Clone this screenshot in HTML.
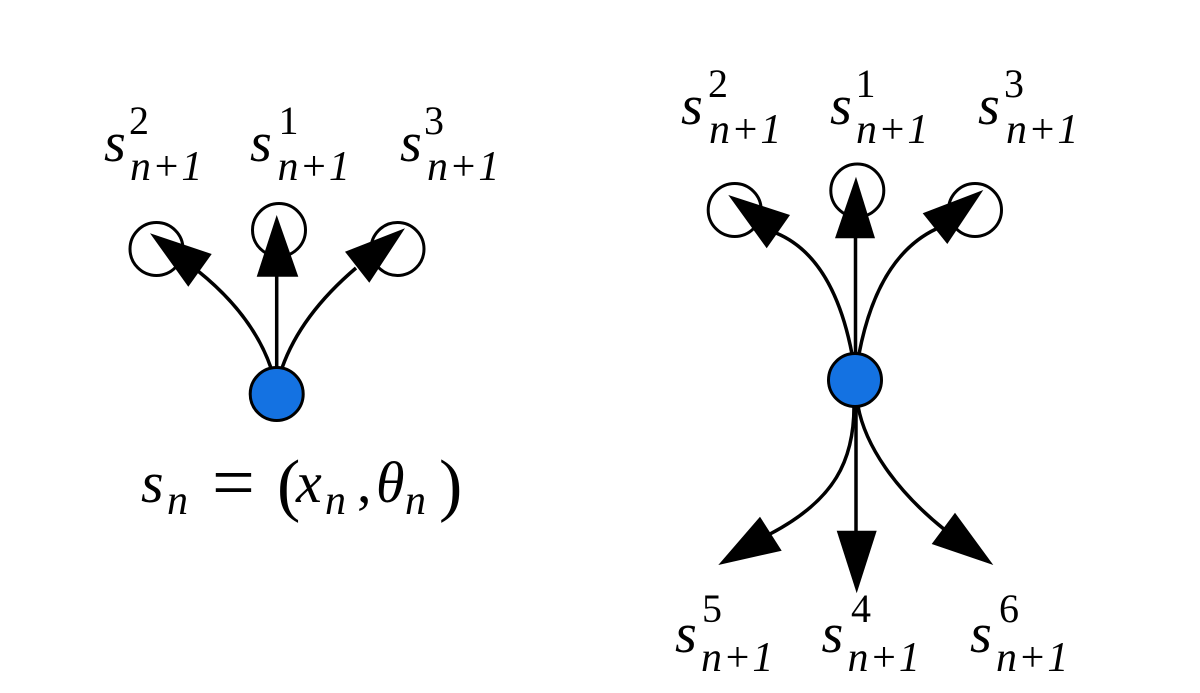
<!DOCTYPE html>
<html>
<head>
<meta charset="utf-8">
<style>
  html,body{margin:0;padding:0;background:#fff;}
  #wrap{position:relative;width:1200px;height:693px;overflow:hidden;background:#fff;}
  svg{position:absolute;left:0;top:0;display:block;}
  .t{position:absolute;white-space:nowrap;line-height:0;color:#000;
     font-family:"Liberation Serif","Times New Roman",Times,serif;font-style:normal;}
  .i{font-style:italic;}
  .m{font-size:56px;}
  .p{font-size:40px;}
  .b{font-size:42px;letter-spacing:1px;}
</style>
</head>
<body>
<div id="wrap">
<svg width="1200" height="693" viewBox="0 0 1200 693" xmlns="http://www.w3.org/2000/svg">
  <rect width="1200" height="693" fill="#fff"/>

  <!-- ===== LEFT DIAGRAM ===== -->
  <g fill="#fff" stroke="#000" stroke-width="3">
    <circle cx="156.5" cy="249" r="26.5"/>
    <circle cx="279" cy="230" r="26.5"/>
    <circle cx="397.5" cy="249" r="26.5"/>
  </g>
  <g fill="none" stroke="#000" stroke-width="3.5">
    <path d="M276.7 368 L276.7 270"/>
    <path d="M271 368 Q252.7 315 198 271"/>
    <path d="M282 368 Q300.7 315 356 268"/>
  </g>
  <g fill="#000" stroke="none">
    <polygon points="276.7,215 256.7,276.7 298.3,276.7"/>
    <polygon points="150,233.3 211.7,254 188.3,286.7"/>
    <polygon points="405,228.3 345,251.7 369.3,282.7"/>
  </g>
  <circle cx="276.7" cy="394" r="26.5" fill="#1472E2" stroke="#000" stroke-width="3"/>

  <!-- ===== RIGHT DIAGRAM ===== -->
  <g fill="#fff" stroke="#000" stroke-width="3">
    <circle cx="734.7" cy="210" r="26.5"/>
    <circle cx="857.3" cy="190.5" r="26.5"/>
    <circle cx="975" cy="210" r="26.5"/>
  </g>
  <g fill="none" stroke="#000" stroke-width="3.5">
    <path d="M855.5 353 L855.5 232"/>
    <path d="M852 354 Q833.3 256.7 776 233"/>
    <path d="M859 354 Q877.7 256.7 936 229"/>
    <path d="M856 406 L856 535"/>
    <path d="M854 406 C854 460 835 500 770 534"/>
    <path d="M858 406 C865 445 895 490 945 530"/>
  </g>
  <g fill="#000" stroke="none">
    <polygon points="856,176.7 835,238.3 875,238.3"/>
    <polygon points="728.3,195 790,215 766.7,248.3"/>
    <polygon points="983.3,190 922.7,213.3 947.3,244"/>
    <polygon points="836.7,530.7 876.7,530.7 856.7,593.3"/>
    <polygon points="718.3,565 760,516.7 781.7,550.7"/>
    <polygon points="993.3,565 955,512.7 931.7,544"/>
  </g>
  <circle cx="855" cy="380" r="26.5" fill="#1472E2" stroke="#000" stroke-width="3"/>
</svg>

<!-- left labels (top = baseline - 0.3375*size) -->
<div class="t i m" style="left:104px;top:143.1px">s</div>
<div class="t p" style="left:129px;top:120.5px">2</div>
<div class="t i b" style="left:130px;top:166.8px">n+1</div>

<div class="t i m" style="left:250px;top:143.1px">s</div>
<div class="t p" style="left:278.5px;top:120.5px">1</div>
<div class="t i b" style="left:277.5px;top:166.8px">n+1</div>

<div class="t i m" style="left:400px;top:143.1px">s</div>
<div class="t p" style="left:424px;top:120.5px">3</div>
<div class="t i b" style="left:427px;top:166.8px">n+1</div>

<!-- formula -->
<div class="t i" style="left:141px;top:483.4px;font-size:58px">s</div>
<div class="t i" style="left:167px;top:500.8px;font-size:42px">n</div>
<div class="t" style="left:212px;top:483.4px;font-size:76px">=</div>
<div class="t" style="left:277px;top:486.4px;font-size:70px">(</div>
<div class="t i" style="left:296px;top:483.4px;font-size:58px">x</div>
<div class="t i" style="left:325px;top:500.8px;font-size:42px">n</div>
<div class="t" style="left:357px;top:483.4px;font-size:58px">,</div>
<div class="t i" style="left:376px;top:483.4px;font-size:58px">θ</div>
<div class="t i" style="left:405px;top:500.8px;font-size:42px">n</div>
<div class="t" style="left:439px;top:486.4px;font-size:70px">)</div>

<!-- right top labels -->
<div class="t i m" style="left:681px;top:106.1px">s</div>
<div class="t p" style="left:708px;top:83.5px">2</div>
<div class="t i b" style="left:709px;top:129.8px">n+1</div>

<div class="t i m" style="left:830px;top:106.1px">s</div>
<div class="t p" style="left:855.5px;top:83.5px">1</div>
<div class="t i b" style="left:856px;top:129.8px">n+1</div>

<div class="t i m" style="left:978px;top:106.1px">s</div>
<div class="t p" style="left:1004px;top:83.5px">3</div>
<div class="t i b" style="left:1006px;top:129.8px">n+1</div>

<!-- right bottom labels -->
<div class="t i m" style="left:675px;top:634.1px">s</div>
<div class="t p" style="left:702px;top:608.5px">5</div>
<div class="t i b" style="left:701px;top:657.8px">n+1</div>

<div class="t i m" style="left:821.5px;top:634.1px">s</div>
<div class="t p" style="left:851px;top:608.5px">4</div>
<div class="t i b" style="left:847.5px;top:657.8px">n+1</div>

<div class="t i m" style="left:970px;top:634.1px">s</div>
<div class="t p" style="left:999px;top:608.5px">6</div>
<div class="t i b" style="left:996px;top:657.8px">n+1</div>
</div>
</body>
</html>
